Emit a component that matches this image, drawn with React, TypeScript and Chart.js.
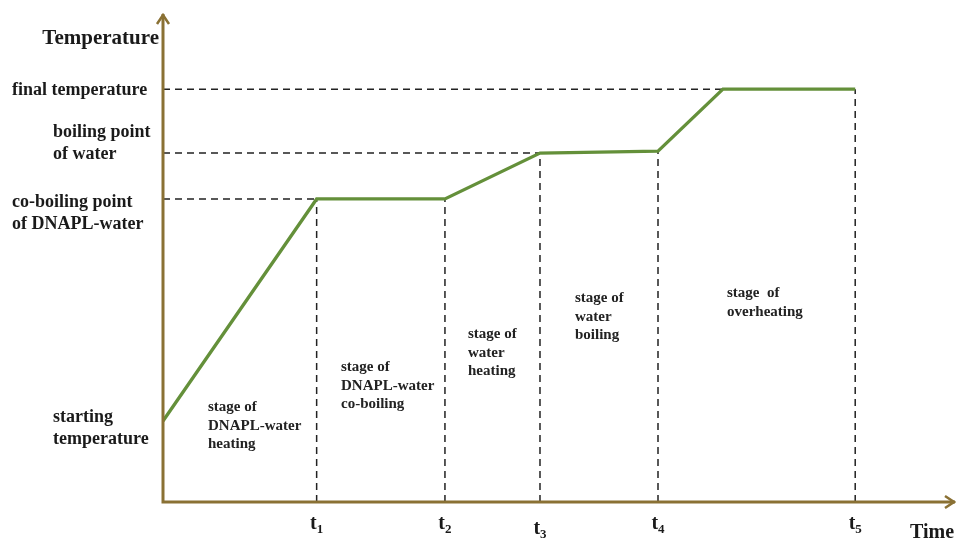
import React, { useEffect, useRef } from "react";
import { Chart, registerables } from "chart.js";

Chart.register(...registerables);

// ---- data ----
const timeLabels = ["1", "2", "3", "4", "5"]; // subscripts of t
const timeValues = [19.4, 35.6, 47.6, 62.5, 87.4];
const curveX = [0, 19.4, 35.6, 47.6, 62.5, 70.7, 87.4];
const curveY = [16.6, 62.1, 62.1, 71.5, 71.9, 84.6, 84.6];
const levelValues = [16.6, 62.1, 71.5, 84.6];
const levelLabels = [
  ["starting", "temperature"],
  ["co-boiling point", "of DNAPL-water"],
  ["boiling point", "of water"],
  ["final temperature"],
];
// dashed guides: [time value, level value]
const guideTimes = [19.4, 35.6, 47.6, 62.5, 87.4];
const guideLevels = [62.1, 62.1, 71.5, 71.9, 84.6];
const stageLabels = [
  ["stage of", "DNAPL-water", "heating"],
  ["stage of", "DNAPL-water", "co-boiling"],
  ["stage of", "water", "heating"],
  ["stage of", "water", "boiling"],
  ["stage  of", "overheating"],
];
const yTitle = "Temperature";
const xTitle = "Time";

const AXIS = "#8A7134";
const GREEN = "#64903A";
const DASH = "#222222";
const SERIF = "'Liberation Serif', 'Times New Roman', serif";

export default function App() {
  const ref = useRef<HTMLCanvasElement | null>(null);
  useEffect(() => {
    const canvas = ref.current!;
    const datasets: any[] = [
      {
        data: curveX.map((x, i) => ({ x, y: curveY[i] })),
        borderColor: GREEN,
        borderWidth: 3.3,
        pointRadius: 0,
        tension: 0,
        order: 0,
      },
    ];
    const hGuides = [
      [timeValues[0], levelValues[1]],
      [timeValues[2], levelValues[2]],
      [timeValues[4], levelValues[3]],
    ];
    hGuides.forEach(([t, v]) =>
      datasets.push({
        data: [
          { x: 0, y: v },
          { x: t, y: v },
        ],
        borderColor: DASH,
        borderWidth: 1.5,
        borderDash: [7, 5],
        pointRadius: 0,
        order: 1,
      })
    );
    guideTimes.forEach((t, i) =>
      datasets.push({
        data: [
          { x: t, y: 0 },
          { x: t, y: guideLevels[i] },
        ],
        borderColor: DASH,
        borderWidth: 1.5,
        borderDash: [7, 5],
        pointRadius: 0,
        order: 1,
      })
    );

    const deco = {
      id: "deco",
      afterDatasetsDraw(chart: any) {
        const ctx = chart.ctx as CanvasRenderingContext2D;
        const xs = chart.scales.x;
        const ys = chart.scales.y;
        const x0 = xs.getPixelForValue(0);
        const y0 = ys.getPixelForValue(0);
        const ca = chart.chartArea;
        ctx.save();
        // axes
        ctx.strokeStyle = AXIS;
        ctx.lineWidth = 3;
        ctx.lineCap = "butt";
        ctx.beginPath();
        ctx.moveTo(x0, y0 + 1.5);
        ctx.lineTo(x0, ca.top);
        ctx.moveTo(x0 - 1.5, y0);
        ctx.lineTo(ca.right, y0);
        ctx.stroke();
        ctx.lineWidth = 2.5;
        ctx.lineJoin = "miter";
        ctx.beginPath();
        ctx.moveTo(x0 - 6, ca.top + 10);
        ctx.lineTo(x0, ca.top + 1);
        ctx.lineTo(x0 + 6, ca.top + 10);
        ctx.moveTo(ca.right - 10, y0 - 6);
        ctx.lineTo(ca.right - 1, y0);
        ctx.lineTo(ca.right - 10, y0 + 6);
        ctx.stroke();

        ctx.fillStyle = "#1a1a1a";
        ctx.textBaseline = "middle";
        // axis titles
        ctx.font = `bold 21px ${SERIF}`;
        ctx.textAlign = "right";
        ctx.fillText(yTitle, x0 - 4, 39);
        ctx.textAlign = "left";
        ctx.font = `bold 20px ${SERIF}`;
        ctx.fillText(xTitle, 910, 533);

        // level labels: [left x, first-line offset from level pixel]
        ctx.font = `bold 18px ${SERIF}`;
        const place = [
          [53, -4],
          [12, 3],
          [53, -21],
          [12, 1],
        ];
        const lh = 22;
        levelLabels.forEach((lines, i) => {
          const yp = ys.getPixelForValue(levelValues[i]);
          lines.forEach((s, j) => ctx.fillText(s, place[i][0], yp + place[i][1] + j * lh));
        });

        // time tick labels
        timeValues.forEach((t, i) => {
          const xp = xs.getPixelForValue(t);
          ctx.font = `bold 20px ${SERIF}`;
          ctx.textAlign = "left";
          const wT = ctx.measureText("t").width;
          ctx.font = `bold 13px ${SERIF}`;
          const wS = ctx.measureText(timeLabels[i]).width;
          const left = xp - (wT + wS) / 2;
          const by = i === 2 ? 529 : 524;
          ctx.font = `bold 20px ${SERIF}`;
          ctx.fillText("t", left, by);
          ctx.font = `bold 13px ${SERIF}`;
          ctx.fillText(timeLabels[i], left + wT, by + 6);
        });

        // stage labels
        ctx.font = `bold 15px ${SERIF}`;
        ctx.fillStyle = "#222";
        ctx.textAlign = "left";
        const pos = [
          [208, 407],
          [341, 367],
          [468, 334],
          [575, 298],
          [727, 293],
        ];
        stageLabels.forEach((lines, i) => {
          lines.forEach((s, j) => ctx.fillText(s, pos[i][0], pos[i][1] + j * 18.7));
        });
        ctx.restore();
      },
    };

    const chart = new Chart(canvas, {
      type: "line",
      data: { datasets },
      options: {
        animation: false,
        responsive: false,
        maintainAspectRatio: false,
        layout: { padding: { left: 163, right: 1, top: 14, bottom: 37 } },
        plugins: { legend: { display: false }, tooltip: { enabled: false } },
        scales: {
          x: { type: "linear", min: 0, max: 100, display: false },
          y: { type: "linear", min: 0, max: 100, display: false },
        },
      },
      plugins: [deco],
    });
    return () => chart.destroy();
  }, []);
  return (
    <div style={{ position: "fixed", left: 0, top: 0, width: 956, height: 539, background: "#fff" }}>
      <canvas ref={ref} width={956} height={539} style={{ width: 956, height: 539 }} />
    </div>
  );
}
